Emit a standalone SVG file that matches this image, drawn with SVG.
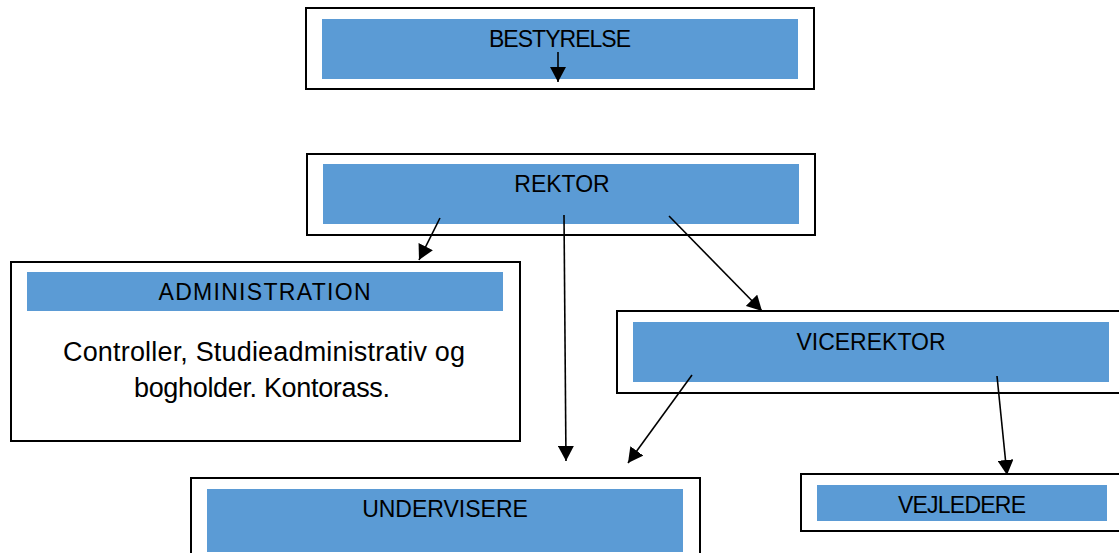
<svg xmlns="http://www.w3.org/2000/svg" width="1119" height="553" viewBox="0 0 1119 553">
<style>
.outer{fill:#fff;stroke:#000;stroke-width:2}
.inner{fill:#5B9BD5}
.t{font-family:"Liberation Sans",Arial,sans-serif;font-size:23px;fill:#000;text-anchor:middle}
.b{font-family:"Liberation Sans",Arial,sans-serif;font-size:27px;fill:#000;text-anchor:middle}
.c{stroke:#000;stroke-width:1.6;fill:none;marker-end:url(#ah)}
</style>
<defs>
<marker id="ah" markerWidth="16" markerHeight="16" refX="15" refY="8" orient="auto" markerUnits="userSpaceOnUse">
<path d="M0,0 L15,8 L0,16 Z" fill="#000"/>
</marker>
</defs>
<rect width="1119" height="553" fill="#fff"/>
<g id="bestyrelse">
<rect class="outer" x="306" y="8" width="508" height="81"/>
<rect class="inner" x="322" y="19" width="476" height="60"/>
<text class="t" x="560" y="47" textLength="142">BESTYRELSE</text>
</g>
<g id="rektor">
<rect class="outer" x="307" y="154" width="508" height="81"/>
<rect class="inner" x="323" y="164" width="476" height="60"/>
<text class="t" x="562" y="192">REKTOR</text>
</g>
<g id="administration">
<rect class="outer" x="11" y="262" width="509" height="179"/>
<rect class="inner" x="27" y="272" width="476" height="39"/>
<text class="t" x="264.5" y="300" textLength="212">ADMINISTRATION</text>
<text class="b" x="264" y="361" textLength="402">Controller, Studieadministrativ og</text>
<text class="b" x="262" y="397" textLength="256">bogholder. Kontorass.</text>
</g>
<g id="vicerektor">
<rect class="outer" x="617" y="311" width="510" height="82"/>
<rect class="inner" x="633" y="322" width="476" height="60"/>
<text class="t" x="871" y="350">VICEREKTOR</text>
</g>
<g id="undervisere">
<rect class="outer" x="191" y="478" width="509" height="90"/>
<rect class="inner" x="207" y="489" width="476" height="63"/>
<text class="t" x="445" y="517">UNDERVISERE</text>
</g>
<g id="vejledere">
<rect class="outer" x="801" y="474" width="330" height="57"/>
<rect class="inner" x="817" y="485" width="290" height="36"/>
<text class="t" x="962" y="513" textLength="128">VEJLEDERE</text>
</g>
<g id="connectors">
<line class="c" x1="558" y1="52" x2="558" y2="82"/>
<line class="c" x1="440" y1="218" x2="419" y2="260"/>
<line class="c" x1="564" y1="215" x2="566" y2="461"/>
<line class="c" x1="669" y1="216" x2="762" y2="311"/>
<line class="c" x1="692" y1="375" x2="628" y2="463"/>
<line class="c" x1="997" y1="376" x2="1007" y2="475"/>
</g>
</svg>
